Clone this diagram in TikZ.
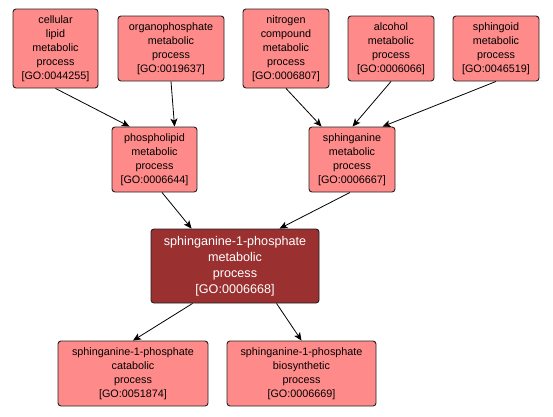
\documentclass[tikz,border=0pt]{standalone}
\usepackage{fontspec}
\setmainfont{Liberation Sans}
\usetikzlibrary{arrows.meta}
\definecolor{golight}{HTML}{FF8A8A}
\definecolor{godark}{HTML}{9A3030}
\definecolor{goedge}{HTML}{222222}
\tikzset{
  gobox/.style={draw=goedge, line width=0.9pt, rounded corners=3pt, fill=golight,
    inner sep=0pt, align=center, font=\fontsize{10.8}{14}\selectfont, text=black},
  gomain/.style={gobox, fill=godark, text=white, font=\fontsize{12.6}{16}\selectfont},
  goarrow/.style={draw=black, line width=0.8pt, -{Stealth[length=8pt,width=7pt,inset=2pt]}}
}
\begin{document}
\begin{tikzpicture}[x=1pt,y=-1pt]
\useasboundingbox (0,0) rectangle (553,416);
% top row
\node[gobox, minimum width=85pt, minimum height=79pt] (n1) at (55.5,48.5) {cellular\\lipid\\metabolic\\process\\{[GO:0044255]}};
\node[gobox, minimum width=106pt, minimum height=65pt] (n2) at (171,48.5) {organophosphate\\metabolic\\process\\{[GO:0019637]}};
\node[gobox, minimum width=86pt, minimum height=79pt] (n3) at (286,48.5) {nitrogen\\compound\\metabolic\\process\\{[GO:0006807]}};
\node[gobox, minimum width=86pt, minimum height=65pt] (n4) at (391,48.5) {alcohol\\metabolic\\process\\{[GO:0006066]}};
\node[gobox, minimum width=86pt, minimum height=65pt] (n5) at (496,48.5) {sphingoid\\metabolic\\process\\{[GO:0046519]}};
% middle row
\node[gobox, minimum width=85pt, minimum height=65pt] (pl) at (154.5,159.5) {phospholipid\\metabolic\\process\\{[GO:0006644]}};
\node[gobox, minimum width=86pt, minimum height=65pt] (sp) at (352,159.5) {sphinganine\\metabolic\\process\\{[GO:0006667]}};
% center
\node[gomain, minimum width=168pt, minimum height=74pt] (c) at (235,266) {sphinganine-1-phosphate\\metabolic\\process\\{[GO:0006668]}};
% bottom
\node[gobox, minimum width=150pt, minimum height=65pt] (bl) at (133,373.5) {sphinganine-1-phosphate\\catabolic\\process\\{[GO:0051874]}};
\node[gobox, minimum width=149pt, minimum height=65pt] (br) at (301.5,373.5) {sphinganine-1-phosphate\\biosynthetic\\process\\{[GO:0006669]}};
% edges
\draw[goarrow] (n1.south) -- ([xshift=18pt]pl.north west);
\draw[goarrow] (n2.south) -- ([xshift=63pt]pl.north west);
\draw[goarrow] (n3.south) -- ([xshift=13pt]sp.north west);
\draw[goarrow] (n4.south) -- ([xshift=44pt]sp.north west);
\draw[goarrow] (n5.south) -- ([xshift=74pt]sp.north west);
\draw[goarrow] ([xshift=7.5pt]pl.south) -- ([xshift=41pt]c.north west);
\draw[goarrow] ([xshift=-2pt]sp.south) -- ([xshift=129pt]c.north west);
\draw[goarrow] ([xshift=42pt]c.south west) -- (bl.north);
\draw[goarrow] ([xshift=126pt]c.south west) -- (br.north);
\end{tikzpicture}
\end{document}
